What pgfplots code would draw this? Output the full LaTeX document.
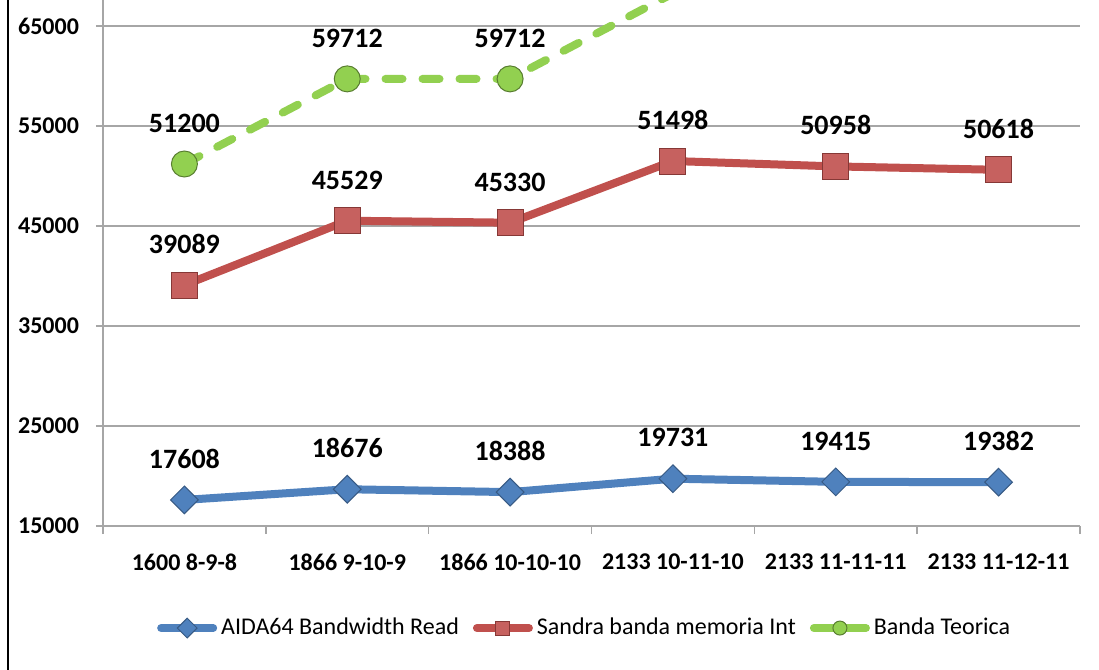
\documentclass[border=0pt]{standalone}
\usepackage{fontspec}
\setmainfont{Carlito}
\usepackage{pgfplots}
\pgfplotsset{compat=1.18}
\definecolor{cblue}{HTML}{4F81BD}
\definecolor{cred}{HTML}{C0504D}
\definecolor{cgreen}{HTML}{92D050}
\definecolor{gridgray}{HTML}{A6A6A6}
\begin{document}
\begin{tikzpicture}
\useasboundingbox (-51.5pt,-72pt) rectangle (498pt,263pt);
\draw[black, line width=1pt] (-47.5pt,-72pt) -- (-47.5pt,263pt);
\begin{axis}[
  scale only axis,
  width=488.5pt, height=263pt,
  at={(0,0)}, anchor=south west,
  xmin=-0.5, xmax=5.5,
  ymin=15000, ymax=67600,
  scaled y ticks=false,
  axis x line*=bottom, axis y line*=left,
  axis line style={draw=gridgray, line width=1pt, -},
  xtick={0,1,2,3,4,5},
  xticklabels={1600 8-9-8, 1866 9-10-9, 1866 10-10-10, 2133 10-11-10, 2133 11-11-11, 2133 11-12-11},
  minor xtick={-0.5,0.5,1.5,2.5,3.5,4.5,5.5},
  ytick={15000,25000,35000,45000,55000,65000},
  tick align=outside,
  major x tick style={draw=none},
  minor tick length=4pt,
  major tick length=3.5pt,
  tick style={draw=gridgray, line width=0.8pt},
  ymajorgrids,
  grid style={draw=gridgray, line width=0.9pt},
  /pgf/number format/.cd, set thousands separator={}, assume math mode=true,
  /pgfplots/.cd,
  ticklabel style={font=\bfseries\fontsize{12}{14}\selectfont},
  xticklabel style={yshift=-7pt},
  yticklabel style={xshift=-5pt},
  nodes near coords,
  nodes near coords style={font=\bfseries\fontsize{14}{16}\selectfont, anchor=south, inner sep=0pt, yshift=15.5pt, text=black},
  every node near coord/.append style={/pgf/number format/.cd, set thousands separator={}, fixed, precision=0},
  legend columns=3,
  legend style={at={(0.494,-0.194)}, anchor=center, draw=none, font=\fontsize{12}{14}\selectfont,
    /tikz/every even column/.append style={column sep=5pt}},
  legend image code/.code={
    \draw[#1, solid, line cap=round, mark=none] (0pt,0pt) -- (26pt,0pt);
    \draw[#1, solid] plot[mark size=3.5pt] coordinates {(13pt,0pt)};
  },
]
\addplot[cblue, line width=4pt, mark=square*, mark size=4.9pt, mark options={rotate=45, fill=cblue, draw=cblue!70!black, line width=0.5pt}]
  coordinates {(0,17608) (1,18676) (2,18388) (3,19731) (4,19415) (5,19382)};
\addlegendentry{AIDA64 Bandwidth Read}
\addplot[cred, line width=4pt, mark=square*, mark size=6.5pt, mark options={fill=cred!90!white, draw=cred!70!black, line width=0.5pt}]
  coordinates {(0,39089) (1,45529) (2,45330) (3,51498) (4,50958) (5,50618)};
\addlegendentry{Sandra banda memoria Int}
\addplot[cgreen, line width=4pt, line cap=round, dash pattern=on 8.5pt off 10pt, mark=*, mark size=6.5pt, mark options={solid, fill=cgreen, draw=cgreen!60!black, line width=0.5pt},
  point meta=explicit symbolic, nodes near coords={\pgfplotspointmeta}]
  coordinates {(0,51200) [51200] (1,59712) [59712] (2,59712) [59712] (3,68256) [] (4,68256) [] (5,68256) []};
\addlegendentry{Banda Teorica}
\end{axis}
\end{tikzpicture}
\end{document}
